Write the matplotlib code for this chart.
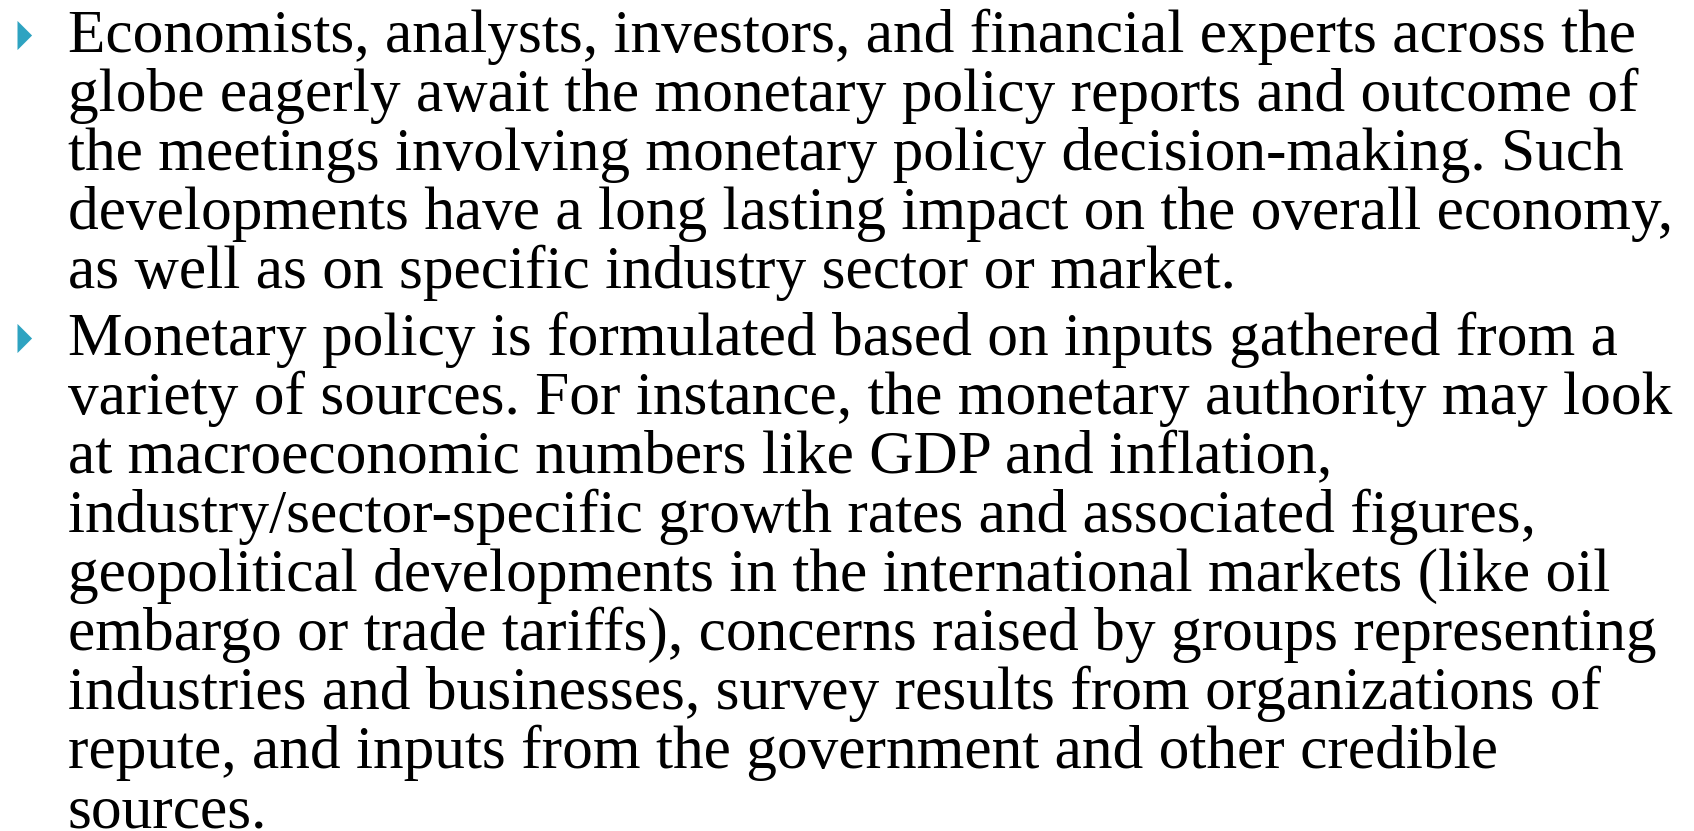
"""
  two-bullet text slide about monetary policy inputs
"""
import matplotlib
matplotlib.use('Agg')
from matplotlib import pyplot as plt

para1=['Economists, analysts, investors, and financial experts across the',
       'globe eagerly await the monetary policy reports and outcome of',
       'the meetings involving monetary policy decision-making. Such',
       'developments have a long lasting impact on the overall economy,',
       'as well as on specific industry sector or market.']
para2=['Monetary policy is formulated based on inputs gathered from a',
       'variety of sources. For instance, the monetary authority may look',
       'at macroeconomic numbers like GDP and inflation,',
       'industry/sector-specific growth rates and associated figures,',
       'geopolitical developments in the international markets (like oil',
       'embargo or trade tariffs), concerns raised by groups representing',
       'industries and businesses, survey results from organizations of',
       'repute, and inputs from the government and other credible',
       'sources.']
paragraphs=[para1,para2]

W,H=1694,831
fig=plt.figure(figsize=(W/100.,H/100.),dpi=100)
fig.patch.set_facecolor('white')
ax=fig.add_axes([0,0,1,1])
ax.set_xlim(0,W)
ax.set_ylim(H,0)
ax.axis('off')

bullet_color='#2ea3c1'
text_x=68
bullet_x=17
first_base=[52,355]
spacing=59.
fsize=44.2
tri=[(0,-1),(1,0),(0,1),(0,-1)]

for p,lines in enumerate(paragraphs):
    base=first_base[p]
    ax.plot([bullet_x],[base-17],marker=tri,markersize=21,
            color=bullet_color,markeredgewidth=0,linestyle='none')
    for i,line in enumerate(lines):
        ax.text(text_x,base+i*spacing,line,family='Liberation Serif',
                fontsize=fsize,va='baseline',ha='left',color='black')

fig.savefig('out.png',dpi=100)
